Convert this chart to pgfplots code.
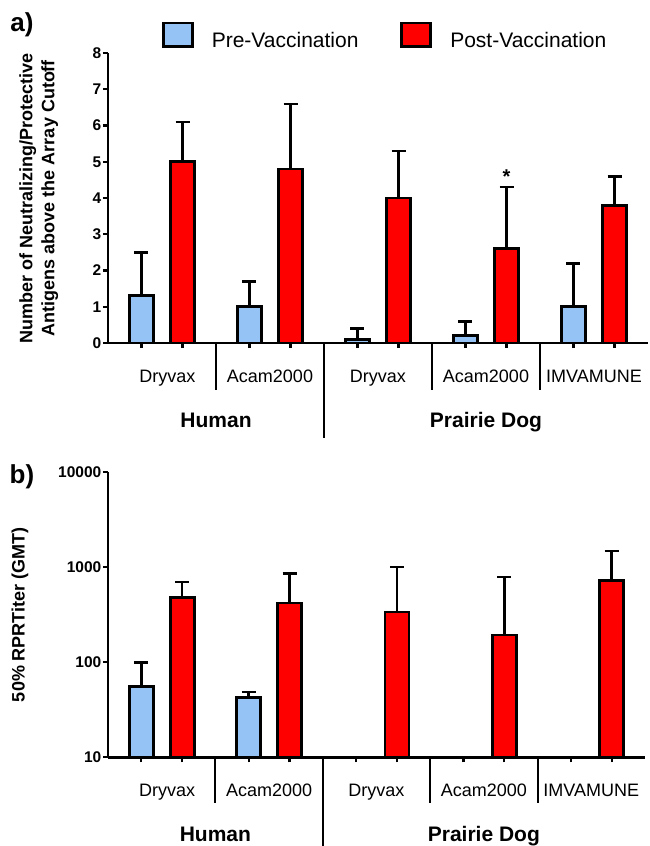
\documentclass[border=0pt]{standalone}
\usepackage{pgfplots}
\pgfplotsset{compat=1.18}
\usepackage{fontspec}
\setmainfont{Liberation Sans}
\definecolor{preblue}{RGB}{150,195,245}
\definecolor{postred}{RGB}{255,0,0}
\newcommand\catfont{\fontsize{18}{18}\selectfont}
\newcommand\grpfont{\bfseries\fontsize{21}{21}\selectfont}

\pgfplotstableread{
x y e
-0.19 1.3 1.2
0.81 1.0 0.7
1.81 0.1 0.3
2.81 0.2 0.4
3.81 1.0 1.2
}\preA
\pgfplotstableread{
x y e
0.19 5.0 1.1
1.19 4.8 1.8
2.19 4.0 1.3
3.19 2.6 1.7
4.19 3.8 0.8
}\postA
\pgfplotstableread{
x y e
-0.19 56 43
0.81 42.3 6.2
}\preB
\pgfplotstableread{
x y e
0.19 479 215
1.19 420 437
2.19 338 667
3.19 193 596
4.19 728 752
}\postB

\pgfplotsset{
  mybar/.style={ybar, bar width=24pt, bar shift=0pt, draw=black, line width=2.8pt,
    error bars/y dir=plus, error bars/y explicit,
    error bars/error bar style={line width=2.5pt, black},
    error bars/error mark options={rotate=90, mark size=7pt, line width=2.5pt, black}},
  common/.style={scale only axis, xmin=-0.5, xmax=4.5, clip=false,
    axis lines*=left, axis line style={line width=2.5pt, black},
    tick align=outside, major tick length=5pt,
    tick style={line width=2.2pt, black},
    xtick={-0.19,0.19,0.81,1.19,1.81,2.19,2.81,3.19,3.81,4.19},
    xticklabels={},
    yticklabel style={font=\bfseries\fontsize{15.5}{15.5}\selectfont, /pgf/number format/assume math mode=true, inner sep=1.5pt},
    ylabel style={font=\bfseries\fontsize{18}{22}\selectfont, align=center, anchor=center},
  },
}

\begin{document}
\begin{tikzpicture}
\useasboundingbox (0,0) rectangle (650pt,-846pt);
\node[font=\bfseries\fontsize{26}{26}\selectfont] at (22pt,-25pt) {a)};
\node[font=\bfseries\fontsize{26}{26}\selectfont] at (22pt,-477pt) {b)};

\begin{axis}[common, at={(108pt,-343pt)}, anchor=south west,
  width=540pt, height=290pt, ymin=0, ymax=8, ytick={0,1,...,8},
  ylabel={Number of Neutralizing/Protective\\Antigens above the Array Cutoff},
  ylabel style={at={(axis description cs:-0.128,0.5)}},
  legend columns=2,
  legend style={at={(axis description cs:0.1,1.058)}, anchor=west, draw=none, fill=none,
    inner sep=0pt, outer sep=0pt, font=\fontsize{21}{21}\selectfont,
    /tikz/every odd column/.style={column sep=16pt},
    /tikz/every even column/.style={column sep=40pt}},
  legend image code/.code={\draw[#1,/tikz/.cd,line width=2.8pt] (0pt,-6pt) rectangle (29pt,17.5pt);},
]
\addplot[mybar, fill=preblue] table[x=x, y=y, y error=e] {\preA};
\addplot[mybar, fill=postred] table[x=x, y=y, y error=e] {\postA};
\legend{Pre-Vaccination, Post-Vaccination}
\node[font=\bfseries\fontsize{20}{20}\selectfont, anchor=south] at (axis cs:3.19,4.3) {*};
\draw[line width=2.2pt] (axis cs:0.5,0) -- ([yshift=-47pt]axis cs:0.5,0);
\draw[line width=2.2pt] (axis cs:2.5,0) -- ([yshift=-47pt]axis cs:2.5,0);
\draw[line width=2.2pt] (axis cs:3.5,0) -- ([yshift=-47pt]axis cs:3.5,0);
\draw[line width=2.2pt] (axis cs:1.5,0) -- ([yshift=-95pt]axis cs:1.5,0);
\node[font=\catfont, anchor=base] at ([yshift=-39pt]axis cs:0.05,0) {Dryvax};
\node[font=\catfont, anchor=base] at ([yshift=-39pt]axis cs:1,0) {Acam2000};
\node[font=\catfont, anchor=base] at ([yshift=-39pt]axis cs:2,0) {Dryvax};
\node[font=\catfont, anchor=base] at ([yshift=-39pt]axis cs:3,0) {Acam2000};
\node[font=\catfont, anchor=base] at ([yshift=-39pt]axis cs:4,0) {IMVAMUNE};
\node[font=\grpfont, anchor=base] at ([yshift=-84pt]axis cs:0.5,0) {Human};
\node[font=\grpfont, anchor=base] at ([yshift=-84pt]axis cs:3.0,0) {Prairie Dog};
\end{axis}

\begin{axis}[common, at={(108pt,-757.3pt)}, anchor=south west,
  width=537pt, height=285.3pt, ymode=log, ymin=10, ymax=10000,
  log origin y=infty,
  ytick={10,100,1000,10000}, yticklabels={10,100,1000,10000}, yminorticks=false,
  ylabel={50\% RPRTiter (GMT)},
  ylabel style={at={(axis description cs:-0.164,0.5)}},
]
\addplot[mybar, fill=preblue] table[x=x, y=y, y error=e] {\preB};
\addplot[mybar, fill=postred] table[x=x, y=y, y error=e] {\postB};
\draw[line width=2.2pt] (axis cs:0.5,10) -- ([yshift=-46pt]axis cs:0.5,10);
\draw[line width=2.2pt] (axis cs:2.5,10) -- ([yshift=-46pt]axis cs:2.5,10);
\draw[line width=2.2pt] (axis cs:3.5,10) -- ([yshift=-46pt]axis cs:3.5,10);
\draw[line width=2.2pt] (axis cs:1.5,10) -- ([yshift=-95pt]axis cs:1.5,10);
\node[font=\catfont, anchor=base] at ([yshift=-39pt]axis cs:0.05,10) {Dryvax};
\node[font=\catfont, anchor=base] at ([yshift=-39pt]axis cs:1,10) {Acam2000};
\node[font=\catfont, anchor=base] at ([yshift=-39pt]axis cs:2,10) {Dryvax};
\node[font=\catfont, anchor=base] at ([yshift=-39pt]axis cs:3,10) {Acam2000};
\node[font=\catfont, anchor=base] at ([yshift=-39pt]axis cs:4,10) {IMVAMUNE};
\node[font=\grpfont, anchor=base] at ([yshift=-84pt]axis cs:0.5,10) {Human};
\node[font=\grpfont, anchor=base] at ([yshift=-84pt]axis cs:3.0,10) {Prairie Dog};
\end{axis}
\end{tikzpicture}
\end{document}
